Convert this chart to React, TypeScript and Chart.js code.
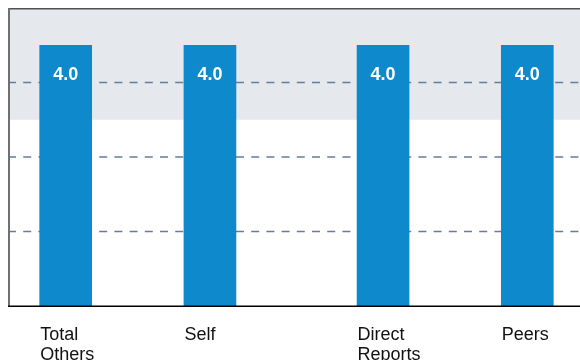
import React, { useEffect, useRef } from "react";
import { Chart, registerables } from "chart.js";

Chart.register(...registerables);

// ---- data ----
const categories = ["Total Others", "Self", "Direct Reports", "Peers"];
const values = [4.0, 4.0, 4.0, 4.0];
const gridValues = [1.5, 2.5, 3.5];
const bandFrom = 3.0;
const yMin = 0.5;
const yMax = 4.5;

// ---- layout (in x-scale units) ----
const edgeUnits = 2;
const slotUnits = 5;
const groupGapUnits = 1;
const groupSize = 2;
const slotPos = (i: number) => edgeUnits + slotUnits * i + groupGapUnits * Math.floor(i / groupSize);
const xMax = slotPos(categories.length - 1) + edgeUnits;

const FONT = '"Liberation Sans", Arial, Helvetica, sans-serif';

const decor = {
  id: "decor",
  beforeDatasetsDraw(chart: any) {
    const { ctx, chartArea: a, scales } = chart;
    const y = scales.y;
    ctx.save();
    const yb = y.getPixelForValue(bandFrom);
    ctx.fillStyle = "#e5e8ec";
    ctx.fillRect(a.left, a.top, a.right - a.left, yb - a.top);
    ctx.strokeStyle = "#677b9c";
    ctx.lineWidth = 1.6;
    ctx.setLineDash([8, 7.2]);
    gridValues.forEach((v) => {
      const py = y.getPixelForValue(v);
      ctx.beginPath();
      ctx.moveTo(a.left, py);
      ctx.lineTo(a.right, py);
      ctx.stroke();
    });
    ctx.setLineDash([]);
    ctx.restore();
  },
  afterDatasetsDraw(chart: any) {
    const { ctx, chartArea: a } = chart;
    ctx.save();
    // frame
    ctx.strokeStyle = "#505050";
    ctx.lineWidth = 1.5;
    ctx.beginPath();
    ctx.moveTo(a.left, a.top + 0.75);
    ctx.lineTo(a.right, a.top + 0.75);
    ctx.stroke();
    ctx.strokeStyle = "#707070";
    ctx.lineWidth = 2;
    ctx.beginPath();
    ctx.moveTo(a.left + 1, a.top);
    ctx.lineTo(a.left + 1, a.bottom);
    ctx.stroke();
    ctx.strokeStyle = "#000000";
    ctx.lineWidth = 1.5;
    ctx.beginPath();
    ctx.moveTo(a.left, a.bottom + 0.35);
    ctx.lineTo(a.right, a.bottom + 0.35);
    ctx.stroke();

    const meta = chart.getDatasetMeta(0);
    meta.data.forEach((bar: any, i: number) => {
      // value label
      ctx.fillStyle = "#ffffff";
      ctx.font = `bold 18px ${FONT}`;
      ctx.textAlign = "center";
      ctx.textBaseline = "alphabetic";
      ctx.fillText(values[i].toFixed(1), bar.x, bar.y + 35);
      // category label, left-aligned at bar's left edge
      const left = bar.x - bar.width / 2;
      ctx.fillStyle = "#111111";
      ctx.font = `18px ${FONT}`;
      ctx.textAlign = "left";
      categories[i].split(" ").forEach((w, k) => {
        ctx.fillText(w, left + 0.5, a.bottom + 33.6 + k * 20);
      });
    });
    ctx.restore();
  },
};

export default function App() {
  const ref = useRef<HTMLCanvasElement | null>(null);
  useEffect(() => {
    document.documentElement.style.overflow = "hidden";
    document.body.style.margin = "0";
    if (!ref.current) return;
    const chart = new Chart(ref.current, {
      type: "bar",
      data: {
        datasets: [
          {
            data: categories.map((c, i) => ({ x: slotPos(i), y: values[i] })),
            backgroundColor: "#0e89cb",
            borderWidth: 0,
            barThickness: 52,
          },
        ],
      },
      options: {
        responsive: false,
        animation: false,
        layout: { padding: { left: 0, top: 0, right: 23, bottom: 102 } },
        plugins: { legend: { display: false }, tooltip: { enabled: false } },
        scales: {
          x: { type: "linear", min: 0, max: xMax, offset: false, display: false },
          y: { min: yMin, max: yMax, display: false },
        },
      },
      plugins: [decor],
    } as any);
    return () => chart.destroy();
  }, []);
  return (
    <div
      style={{
        position: "relative",
        width: 580,
        height: 360,
        overflow: "hidden",
        paddingLeft: 8,
        paddingTop: 8,
        boxSizing: "border-box",
      }}
    >
      <canvas ref={ref} width={600} height={400} style={{ display: "block" }} />
    </div>
  );
}
